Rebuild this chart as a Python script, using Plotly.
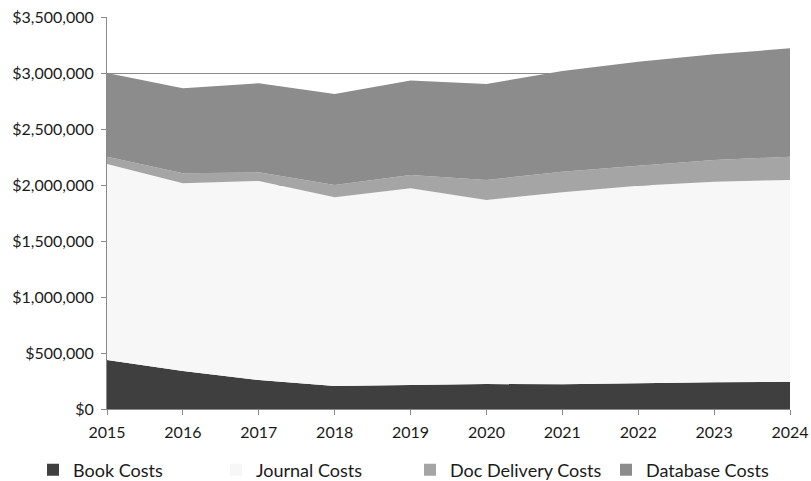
import plotly.graph_objects as go

years = [2015, 2016, 2017, 2018, 2019, 2020, 2021, 2022, 2023, 2024]
book_costs = [437000, 339000, 259000, 205000, 214000, 223000, 220000, 229000, 238000, 244000]
journal_costs = [1751000, 1676000, 1777000, 1685000, 1756000, 1643000, 1715000, 1765000, 1792000, 1801000]
doc_delivery_costs = [65000, 89000, 77000, 110000, 119000, 179000, 184000, 178000, 193000, 208000]
database_costs = [747000, 759000, 795000, 813000, 845000, 857000, 899000, 929000, 944000, 967000]

y_ticks = [0, 500000, 1000000, 1500000, 2000000, 2500000, 3000000, 3500000]
y_tick_labels = ["$0", "$500,000", "$1,000,000", "$1,500,000", "$2,000,000",
                 "$2,500,000", "$3,000,000", "$3,500,000"]

series = [
    ("Book Costs", book_costs, "#3f3f3f"),
    ("Journal Costs", journal_costs, "#f7f7f7"),
    ("Doc Delivery Costs", doc_delivery_costs, "#a5a5a5"),
    ("Database Costs", database_costs, "#8c8c8c"),
]
# left edge of each legend entry, in container fractions
legend_x = [33 / 811, 216 / 811, 410 / 811, 606 / 811]

fig = go.Figure()
for name, values, color in series:
    fig.add_trace(go.Scatter(
        x=years, y=values, name=name, stackgroup="costs", mode="none",
        fillcolor=color, showlegend=False, hoverinfo="x+y+name",
    ))

font_family = "Lato, 'Open Sans', sans-serif"
legend_layout = {}
for i, (name, values, color) in enumerate(series):
    key = "legend" if i == 0 else f"legend{i + 1}"
    # square legend key for each stacked area
    fig.add_trace(go.Bar(
        x=[None], y=[None], name=name, marker=dict(color=color, line=dict(width=0)),
        showlegend=True, legend=key,
    ))
    legend_layout[key] = dict(
        xref="container", yref="container",
        x=legend_x[i], xanchor="left", y=1 - 470 / 481, yanchor="middle",
        font=dict(size=18, color="#1a1a1a", family=font_family),
        itemwidth=30, bgcolor="rgba(0,0,0,0)",
    )

fig.update_layout(
    width=811, height=481,
    margin=dict(l=107, r=21, t=17, b=72, autoexpand=False),
    paper_bgcolor="white", plot_bgcolor="white",
    font=dict(family=font_family, size=16, color="#1a1a1a"),
    showlegend=True,
    xaxis=dict(
        range=[2015, 2024], tickmode="array", tickvals=years,
        ticktext=[str(y) for y in years], automargin=False,
        showgrid=False, showline=True, linecolor="#8a8a8a", linewidth=1,
        ticks="outside", ticklen=5, tickcolor="#8a8a8a", zeroline=False,
        ticklabelstandoff=4,
    ),
    yaxis=dict(
        range=[0, 3500000], tickmode="array", tickvals=y_ticks, ticktext=y_tick_labels,
        automargin=False,
        showgrid=True, gridcolor="#8a8a8a", gridwidth=1,
        showline=True, linecolor="#8a8a8a", linewidth=1,
        ticks="outside", ticklen=5, tickcolor="#8a8a8a", zeroline=False,
        ticklabelstandoff=4,
    ),
    **legend_layout,
)

fig.write_html("out.html")
